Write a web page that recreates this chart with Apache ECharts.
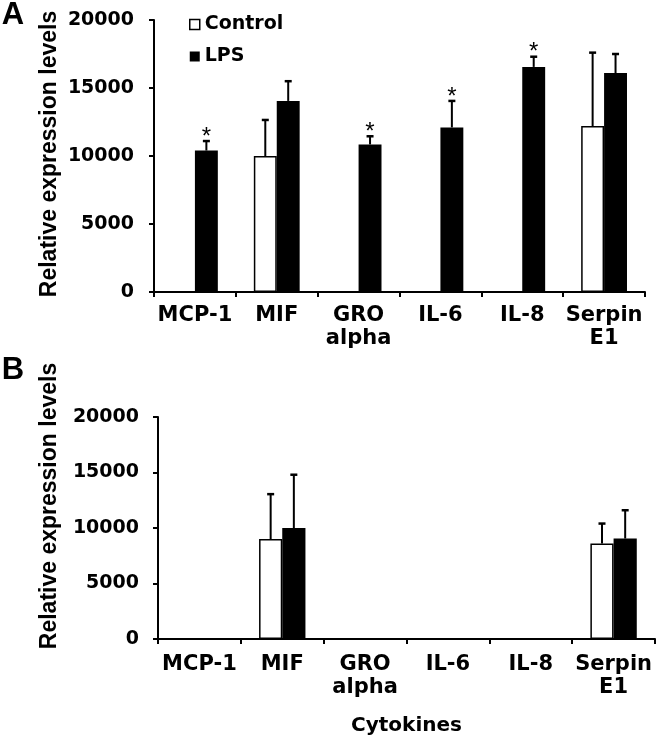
<!DOCTYPE html>
<html>
<head>
<meta charset="utf-8">
<script src="https://cdn.jsdelivr.net/npm/echarts@6/dist/echarts.min.js"></script>
<style>
  html, body { margin: 0; padding: 0; background: #fff; }
  #chart { width: 660px; height: 741px; }
</style>
</head>
<body>
<div id="chart"></div>
<script>
// ---- data ----
var categories = ['MCP-1', 'MIF', 'GRO\nalpha', 'IL-6', 'IL-8', 'Serpin\nE1'];
var seriesNames = ['Control', 'LPS'];

var panelA_control    = [0, 10000, 0, 0, 0, 12200];
var panelA_controlErr = [0, 2650, 0, 0, 0, 5400];
var panelA_lps        = [10400, 14050, 10850, 12100, 16550, 16100];
var panelA_lpsErr     = [700, 1450, 600, 1950, 750, 1400];
var panelA_sig        = ['*', '', '*', '*', '*', ''];

var panelB_control    = [0, 9000, 0, 0, 0, 8600];
var panelB_controlErr = [0, 4050, 0, 0, 0, 1800];
var panelB_lps        = [0, 10000, 0, 0, 0, 9050];
var panelB_lpsErr     = [0, 4800, 0, 0, 0, 2550];
var panelB_sig        = ['', '', '', '', '', ''];

var yMin = 0, yMax = 20000, yInterval = 5000;
var yTitle = 'Relative expression levels';
var xTitle = 'Cytokines';
var panelLabels = ['A', 'B'];

// ---- chart ----
var FONT = "'DejaVu Sans', Verdana, sans-serif";
var FONT2 = "'Liberation Sans', Arial, sans-serif";
var BAR_FRAC = 0.28;

function errData(vals, errs, sig) {
  return vals.map(function (v, i) { return [i, v, errs[i], sig ? sig[i] : '']; });
}

function errSeries(idx, vals, errs, side, sig) {
  return {
    type: 'custom',
    xAxisIndex: idx, yAxisIndex: idx,
    silent: true,
    z: 5,
    encode: { x: 0, y: 1 },
    data: errData(vals, errs, sig),
    renderItem: function (params, api) {
      var ci = api.value(0), v = api.value(1), e = api.value(2);
      var s = sig ? sig[params.dataIndex] : '';
      var bw = api.size([1, 0])[0] * BAR_FRAC;
      var base = api.coord([ci, v]);
      var top = api.coord([ci, v + e]);
      var x = base[0] + side * bw / 2;
      var children = [];
      if (e > 0) {
        children.push({ type: 'line', shape: { x1: x, y1: base[1], x2: x, y2: top[1] },
          style: { stroke: '#000', lineWidth: 2 } });
        children.push({ type: 'line', shape: { x1: x - 3.5, y1: top[1], x2: x + 3.5, y2: top[1] },
          style: { stroke: '#000', lineWidth: 2.5 } });
      }
      if (s) {
        children.push({ type: 'text', x: x, y: top[1] - 4,
          style: { text: s, fontSize: 24, fontFamily: FONT2, fill: '#000', align: 'center', verticalAlign: 'middle' } });
      }
      return { type: 'group', children: children };
    }
  };
}

function barSeries(idx, name, vals, isControl) {
  return {
    name: name,
    type: 'bar',
    xAxisIndex: idx, yAxisIndex: idx,
    data: vals,
    barWidth: (BAR_FRAC * 100) + '%',
    barGap: '0%',
    itemStyle: isControl
      ? { color: '#fff', borderColor: '#000', borderWidth: 1.5 }
      : { color: '#000', borderColor: '#000', borderWidth: 0 },
    emphasis: { disabled: true }
  };
}

function xAxisCfg(idx, margin, withName) {
  var cfg = {
    type: 'category', gridIndex: idx, data: categories,
    axisLine: { lineStyle: { color: '#000', width: 2 } },
    axisTick: { show: true, length: 5, alignWithLabel: false, lineStyle: { color: '#000', width: 2 } },
    axisLabel: { color: '#000', fontFamily: FONT, fontWeight: 'bold', fontSize: 21, lineHeight: 23,
      margin: margin, interval: 0 },
    splitLine: { show: false }
  };
  if (withName) {
    cfg.name = xTitle;
    cfg.nameLocation = 'middle';
    cfg.nameGap = 77;
    cfg.nameTextStyle = { color: '#000', fontFamily: FONT, fontWeight: 'bold', fontSize: 20 };
  }
  return cfg;
}

function yAxisCfg(idx, margin) {
  return {
    type: 'value', gridIndex: idx, min: yMin, max: yMax, interval: yInterval,
    axisLine: { show: true, lineStyle: { color: '#000', width: 2 } },
    axisTick: { show: true, length: 5, lineStyle: { color: '#000', width: 2 } },
    axisLabel: { color: '#000', fontFamily: FONT, fontWeight: 'bold', fontSize: 19, margin: margin,
      formatter: function (v) { return String(v); } },
    splitLine: { show: false }
  };
}

var chart = echarts.init(document.getElementById('chart'), null, { renderer: 'canvas' });
chart.setOption({
  backgroundColor: '#fff',
  animation: false,
  grid: [
    { left: 154, top: 20, width: 491, height: 272, containLabel: false, outerBoundsMode: 'none' },
    { left: 158, top: 417, width: 497, height: 222, containLabel: false, outerBoundsMode: 'none' }
  ],
  legend: {
    orient: 'vertical', left: 189, top: 15, padding: 0,
    itemWidth: 10, itemHeight: 10, itemGap: 13,
    textStyle: { color: '#000', fontFamily: FONT, fontWeight: 'bold', fontSize: 19 },
    data: [
      { name: 'Control', icon: 'rect', itemStyle: { color: '#fff', borderColor: '#000', borderWidth: 1.5 } },
      { name: 'LPS', icon: 'rect', itemStyle: { color: '#000', borderColor: '#000', borderWidth: 0 } }
    ],
    selectedMode: false
  },
  xAxis: [xAxisCfg(0, 12, false), xAxisCfg(1, 14, true)],
  yAxis: [yAxisCfg(0, 20), yAxisCfg(1, 19)],
  graphic: [
    { type: 'text', x: 13, y: 15, style: { text: panelLabels[0], fontSize: 31, fontWeight: 'bold', fontFamily: FONT2, fill: '#000', align: 'center', verticalAlign: 'middle' } },
    { type: 'text', x: 13, y: 370, style: { text: panelLabels[1], fontSize: 31, fontWeight: 'bold', fontFamily: FONT2, fill: '#000', align: 'center', verticalAlign: 'middle' } },
    { type: 'text', x: 50, y: 154, rotation: Math.PI / 2, style: { text: yTitle, fontSize: 23, fontWeight: 'bold', fontFamily: FONT2, fill: '#000', align: 'center', verticalAlign: 'middle' } },
    { type: 'text', x: 50, y: 506, rotation: Math.PI / 2, style: { text: yTitle, fontSize: 23, fontWeight: 'bold', fontFamily: FONT2, fill: '#000', align: 'center', verticalAlign: 'middle' } }
  ],
  series: [
    barSeries(0, seriesNames[0], panelA_control, true),
    barSeries(0, seriesNames[1], panelA_lps, false),
    errSeries(0, panelA_control, panelA_controlErr, -1, null),
    errSeries(0, panelA_lps, panelA_lpsErr, 1, panelA_sig),
    barSeries(1, seriesNames[0], panelB_control, true),
    barSeries(1, seriesNames[1], panelB_lps, false),
    errSeries(1, panelB_control, panelB_controlErr, -1, null),
    errSeries(1, panelB_lps, panelB_lpsErr, 1, panelB_sig)
  ]
});
</script>
</body>
</html>
